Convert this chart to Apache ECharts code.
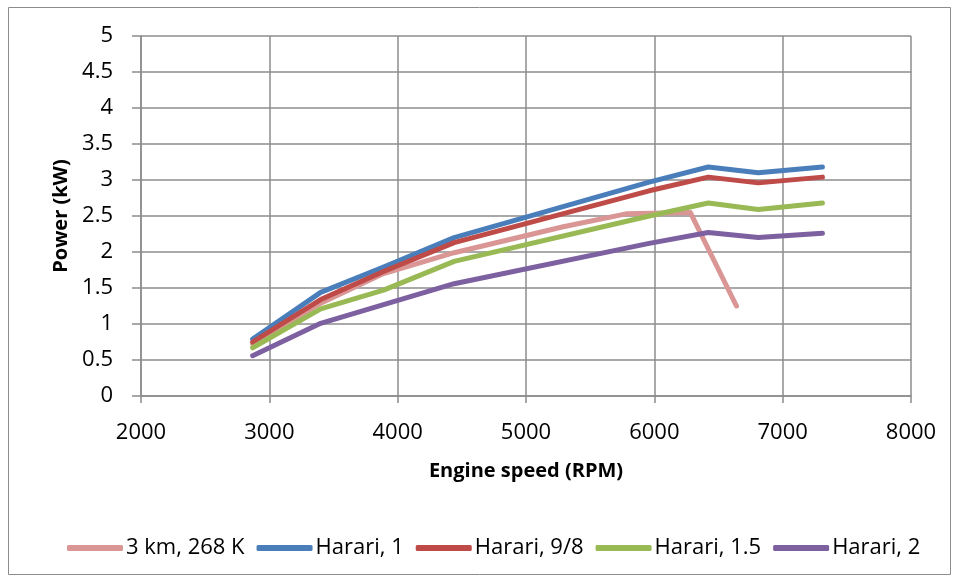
<!DOCTYPE html>
<html>
<head>
<meta charset="utf-8">
<script src="https://cdn.jsdelivr.net/npm/echarts@6/dist/echarts.min.js"></script>
<style>
  html, body { margin: 0; padding: 0; background: #fff; }
  #chart { width: 960px; height: 581px; }
</style>
</head>
<body>
<div id="chart"></div>
<script>
// Engine speed (RPM) and measured power (kW)
const speedAlt = [2870, 3400, 3890, 4440, 5290, 5780, 6280, 6640];
const powerAlt = [0.72, 1.29, 1.70, 1.99, 2.35, 2.53, 2.55, 1.25];

const speedHarari = [2870, 3400, 3890, 4440, 5960, 6420, 6810, 7310];
const powerHarari1 = [0.79, 1.44, 1.79, 2.20, 2.97, 3.18, 3.10, 3.18];
const powerHarari98 = [0.75, 1.34, 1.73, 2.13, 2.85, 3.04, 2.96, 3.04];
const powerHarari15 = [0.67, 1.21, 1.47, 1.87, 2.50, 2.68, 2.59, 2.68];
const powerHarari2 = [0.56, 1.01, 1.27, 1.56, 2.12, 2.27, 2.20, 2.26];

const seriesNames = ['3 km, 268 K', 'Harari, 1', 'Harari, 9/8', 'Harari, 1.5', 'Harari, 2'];
const seriesColors = ['#D99694', '#4A7EBB', '#BE4B48', '#98B954', '#7D60A0'];

const pairs = (xs, ys) => xs.map((x, i) => [x, ys[i]]);
const seriesData = [
  pairs(speedAlt, powerAlt),
  pairs(speedHarari, powerHarari1),
  pairs(speedHarari, powerHarari98),
  pairs(speedHarari, powerHarari15),
  pairs(speedHarari, powerHarari2)
];

const FONT = '"Open Sans", "Noto Sans", sans-serif';
const gridColor = '#8c8c8c';

const chart = echarts.init(document.getElementById('chart'), null, { renderer: 'canvas' });
chart.setOption({
  backgroundColor: '#ffffff',
  animation: false,
  graphic: [{
    type: 'rect',
    shape: { x: 8.5, y: 7.5, width: 942, height: 567 },
    style: { fill: null, stroke: '#8c8c8c', lineWidth: 1 },
    silent: true
  }],
  grid: { left: 141, right: 49, top: 36, bottom: 185, containLabel: false },
  xAxis: {
    type: 'value',
    min: 2000, max: 8000, interval: 1000,
    name: 'Engine speed (RPM)',
    nameLocation: 'middle',
    nameGap: 65,
    nameTextStyle: { fontFamily: FONT, fontSize: 20, fontWeight: 'bold', color: '#000' },
    axisLine: { show: true, onZero: false, lineStyle: { color: gridColor, width: 1.5 } },
    axisTick: { show: true, inside: false, length: 7, lineStyle: { color: gridColor, width: 1.5 } },
    axisLabel: { fontFamily: FONT, fontSize: 22, color: '#000', margin: 26, formatter: v => String(v) },
    splitLine: { show: true, lineStyle: { color: gridColor, width: 1.5 } }
  },
  yAxis: {
    type: 'value',
    min: 0, max: 5, interval: 0.5,
    name: 'Power (kW)',
    nameLocation: 'middle',
    nameGap: 68,
    nameTextStyle: { fontFamily: FONT, fontSize: 20, fontWeight: 'bold', color: '#000' },
    axisLine: { show: true, lineStyle: { color: gridColor, width: 1.5 } },
    axisTick: { show: true, inside: false, length: 9, lineStyle: { color: gridColor, width: 1.5 } },
    axisLabel: { fontFamily: FONT, fontSize: 22, color: '#000', margin: 28 },
    splitLine: { show: true, lineStyle: { color: gridColor, width: 1.5 } }
  },
  legend: {
    show: true,
    left: 62,
    top: 532,
    icon: 'roundRect',
    itemWidth: 56,
    itemHeight: 6,
    itemGap: 12,
    textStyle: { fontFamily: FONT, fontSize: 22, color: '#000', padding: [0, 0, 0, -2] },
    data: seriesNames
  },
  series: seriesNames.map((name, i) => ({
    name,
    type: 'line',
    data: seriesData[i],
    symbol: 'none',
    smooth: false,
    color: seriesColors[i],
    lineStyle: { color: seriesColors[i], width: 5, cap: 'round', join: 'round' },
    z: 2 + i
  }))
});
</script>
</body>
</html>
